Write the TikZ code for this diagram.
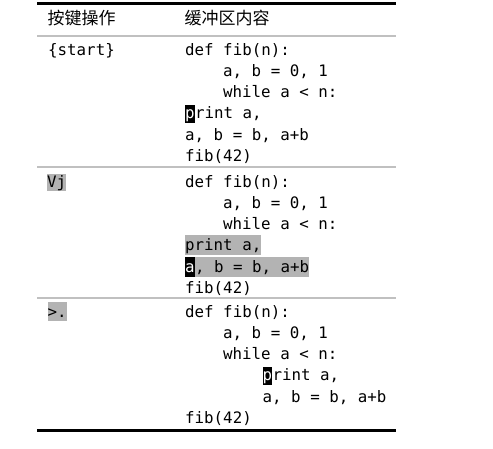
\documentclass[tikz,border=0pt]{standalone}
\usepackage{fontspec}
\setmonofont{DejaVu Sans Mono}
\newfontfamily\cjk{Noto Sans CJK SC}
\definecolor{hl}{HTML}{B3B3B3}
\definecolor{rulegray}{HTML}{C0C0C0}
\begin{document}
\begin{tikzpicture}[x=1pt,y=-1pt,
  code/.style={anchor=base west, inner sep=0pt, font=\ttfamily\fontsize{15.8}{19}\selectfont},
  hd/.style={anchor=base west, inner sep=0pt, font=\cjk\fontsize{17}{20}\selectfont},
  hlbox/.style={code, fill=hl, text height=16pt, text depth=4pt},
  keybox/.style={code, fill=hl, text height=13.5pt, text depth=3.5pt},
  cursor/.style={code, fill=black, text=white, text height=14pt, text depth=4.5pt},
  heavyrule/.style={line width=3pt, black},
  lightrule/.style={line width=1.9pt, rulegray}]
\useasboundingbox (0,0) rectangle (493,448);
% rules
\draw[heavyrule] (37,3.5) -- (396,3.5);
\draw[lightrule] (37,35.7) -- (396,35.7);
\draw[lightrule] (37,167) -- (396,167);
\draw[lightrule] (37,298.3) -- (396,298.3);
\draw[heavyrule] (37,430.5) -- (396,430.5);
% header
\node[hd] (h1) at (47.5,24.5) {按键操作};
\node[hd] (h2) at (184.5,24.5) {缓冲区内容};
% row 1
\node[code] (k1) at (48,55) {\{start\}};
\node[code] (r1a) at (185,55) {def fib(n):};
\node[code] (r1b) at (223,76.3) {a, b = 0, 1};
\node[code] (r1c) at (223,97.6) {while a < n:};
\node[cursor] (r1dc) at (185,118.9) {p};
\node[code] (r1d) at (r1dc.base east) {rint a,};
\node[code] (r1e) at (185,140.2) {a, b = b, a+b};
\node[code] (r1f) at (185,161.5) {fib(42)};
% row 2
\node[keybox] (k2) at (47,187) {Vj};
\node[code] (r2a) at (185,187) {def fib(n):};
\node[code] (r2b) at (223,208.3) {a, b = 0, 1};
\node[code] (r2c) at (223,229.6) {while a < n:};
\node[hlbox] (r2d) at (185,250.9) {print a,};
\node[cursor, text height=15.5pt, text depth=5pt] (r2ec) at (185,272.2) {a};
\node[hlbox, text height=15pt, text depth=5pt] (r2e) at (r2ec.base east) {, b = b, a+b};
\node[code] (r2f) at (185,293.5) {fib(42)};
% row 3
\node[keybox, text height=15pt] (k3) at (47.5,317) {>.};
\node[code] (r3a) at (185,317) {def fib(n):};
\node[code] (r3b) at (223,338.3) {a, b = 0, 1};
\node[code] (r3c) at (223,359.6) {while a < n:};
\node[cursor] (r3dc) at (262.5,380.9) {p};
\node[code] (r3d) at (r3dc.base east) {rint a,};
\node[code] (r3e) at (262.5,402.2) {a, b = b, a+b};
\node[code] (r3f) at (185,423.5) {fib(42)};
\end{tikzpicture}
\end{document}
